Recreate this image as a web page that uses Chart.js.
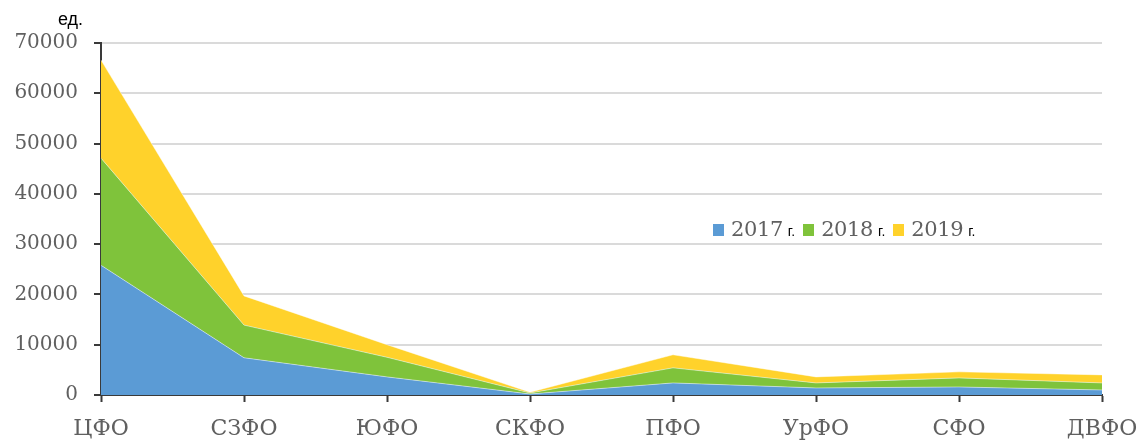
<!DOCTYPE html>
<html lang="ru">
<head>
<meta charset="utf-8">
<title>Федеральные округа, ед.</title>
<script src="https://cdn.jsdelivr.net/npm/chart.js@4/dist/chart.umd.min.js"></script>
<style>
  html, body { margin: 0; padding: 0; background: #fff; }
  #wrap { position: relative; width: 1141px; height: 440px; }
  #unit {
    position: absolute; left: 58px; top: 9px;
    font: 18px "Liberation Sans", Arial, sans-serif; color: #000;
  }
  #legend {
    position: absolute; left: 713px; top: 217px;
    display: flex; align-items: baseline; white-space: nowrap;
  }
  .item { display: flex; align-items: baseline; margin-right: 8px; }
  .swatch { display: inline-block; width: 11px; height: 12px; margin-right: 7px; }
  .year { font: 21px "DejaVu Serif", serif; color: #606060; letter-spacing: -0.4px; }
  .suffix { font: 14px "Liberation Sans", Arial, sans-serif; color: #000; margin-left: 5px; }
</style>
</head>
<body>
<div id="wrap">
  <canvas id="chart" width="1141" height="440"></canvas>
  <div id="unit">ед.</div>
  <div id="legend"></div>
</div>
<script>
// ─── Data ────────────────────────────────────────────────────────────────────
const DISTRICTS = ['ЦФО', 'СЗФО', 'ЮФО', 'СКФО', 'ПФО', 'УрФО', 'СФО', 'ДВФО'];
const YEARS = ['2017', '2018', '2019'];

const VALUES_2017 = [25800, 7400, 3600, 200, 2400, 1400, 1600, 1000];
const VALUES_2018 = [21300, 6500, 3900, 200, 3000, 1000, 1800, 1400];
const VALUES_2019 = [19500, 5800, 2500, 150, 2600, 1200, 1200, 1600];

const Y_MAX = 70000;
const Y_STEP = 10000;

// ─── Look ────────────────────────────────────────────────────────────────────
const AREA_COLORS = ['#5b9bd5', '#7fc33b', '#ffd22b'];
const AXIS_COLOR = '#3a3a3a';
const GRID_COLOR = '#dadada';
const TICK_TEXT = '#606060';
const Y_FONT = { family: '"DejaVu Serif", serif', size: 20 };
const X_FONT = { family: '"DejaVu Serif", serif', size: 22 };

const SERIES = [VALUES_2017, VALUES_2018, VALUES_2019];

const datasets = SERIES.map((values, i) => ({
  label: YEARS[i] + ' г.',
  data: values,
  backgroundColor: AREA_COLORS[i],
  borderColor: 'rgba(255,255,255,0.45)',
  borderWidth: 1,
  fill: i === 0 ? 'origin' : '-1',
  pointRadius: 0,
  tension: 0,
}));

new Chart(document.getElementById('chart'), {
  type: 'line',
  data: { labels: DISTRICTS, datasets },
  options: {
    responsive: false,
    animation: false,
    layout: { padding: { top: 43, right: 39, left: 0, bottom: 0 } },
    plugins: {
      legend: { display: false },
      tooltip: { enabled: false },
    },
    scales: {
      x: {
        offset: false,
        grid: {
          drawOnChartArea: false,
          drawTicks: true,
          tickLength: 7,
          tickColor: AXIS_COLOR,
          tickWidth: 2,
        },
        border: { color: AXIS_COLOR, width: 2 },
        ticks: {
          color: TICK_TEXT,
          font: X_FONT,
          padding: 14,
          maxRotation: 0,
          autoSkip: false,
        },
        afterFit(scale) {
          scale.height = 45;
          // let the last label run to the canvas edge instead of shrinking the plot
          scale.paddingLeft = 0;
          scale.paddingRight = 0;
        },
      },
      y: {
        stacked: true,
        min: 0,
        max: Y_MAX,
        grid: {
          color: GRID_COLOR,
          lineWidth: 2,
          tickLength: 7,
          tickColor: AXIS_COLOR,
          tickWidth: 2,
        },
        border: { color: AXIS_COLOR, width: 2 },
        ticks: {
          stepSize: Y_STEP,
          color: TICK_TEXT,
          font: Y_FONT,
          padding: 16,
          // plain digits, no thousands separator
          callback: (value) => String(value),
        },
        afterFit(scale) { scale.width = 101; },
      },
    },
  },
});

// ─── Legend: serif year plus a small sans "г." ───────────────────────────────
const legendEl = document.getElementById('legend');
YEARS.forEach((year, i) => {
  const item = document.createElement('span');
  item.className = 'item';
  item.innerHTML =
    `<span class="swatch" style="background:${AREA_COLORS[i]}"></span>` +
    `<span class="year">${year}</span><span class="suffix">г.</span>`;
  legendEl.appendChild(item);
});
</script>
</body>
</html>
